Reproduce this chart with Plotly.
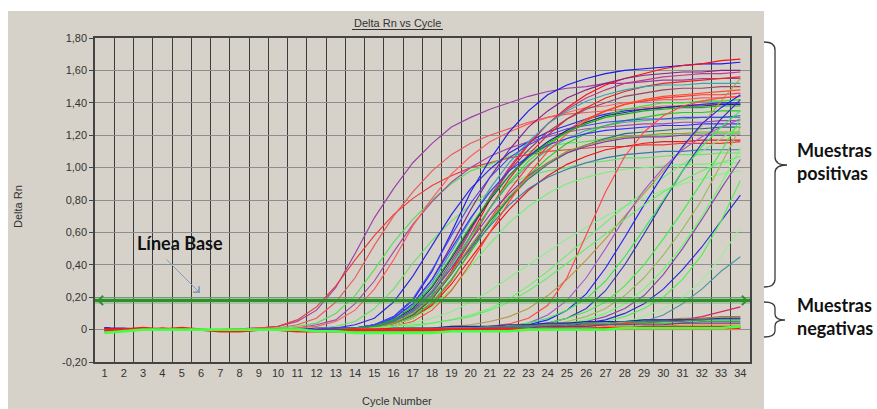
import plotly.graph_objects as go

# ---------------- data ----------------
cycles = list(range(1, 35))
x_tick_labels = [str(c) for c in cycles]
y_tick_vals = [-0.2, 0.0, 0.2, 0.4, 0.6, 0.8, 1.0, 1.2, 1.4, 1.6, 1.8]
y_tick_text = ["-0,20", "0", "0,20", "0,40", "0,60", "0,80", "1,00", "1,20", "1,40", "1,60", "1,80"]
THRESHOLD = 0.18

# early positives
E1 = [0.01,0.00,0.00,0.00,0.00,0.00,0.00,0.005,0.01,0.02, 0.05,0.12,0.26,0.47,0.69,0.87,1.03,1.15,1.25,1.31, 1.36,1.40,1.44,1.47,1.49,1.50,1.52,1.52,1.53,1.54, 1.54,1.55,1.55,1.55]
E2 = [-0.01,0.00,0.00,0.01,0.00,0.00,0.00,0.005,0.01,0.02, 0.06,0.14,0.27,0.43,0.58,0.71,0.81,0.89,0.95,1.00, 1.03,1.06,1.08,1.10,1.11,1.12,1.13,1.13,1.14,1.14, 1.15,1.15,1.15,1.16]
E3 = [0.00,0.00,0.00,0.00,0.00,0.00,0.00,0.00,0.01,0.01, 0.03,0.07,0.17,0.32,0.52,0.70,0.85,0.98,1.08,1.15, 1.20,1.24,1.28,1.31,1.33,1.34,1.35,1.36,1.37,1.38, 1.38,1.39,1.39,1.39]
E4 = [0.00,0.00,0.00,0.00,0.00,0.00,0.00,0.00,0.00,0.01, 0.02,0.04,0.10,0.21,0.37,0.54,0.68,0.80,0.90,0.98, 1.02,1.07,1.10,1.13,1.15,1.16,1.18,1.19,1.19,1.20, 1.20,1.21,1.21,1.21]
E5 = [0.01,0.00,0.00,0.00,0.00,0.00,0.00,0.00,0.00,0.00, 0.01,0.03,0.06,0.16,0.30,0.48,0.65,0.79,0.91,1.00, 1.07,1.12,1.16,1.19,1.22,1.24,1.25,1.26,1.27,1.27, 1.28,1.28,1.29,1.29]
E6 = [0.00,0.00,0.00,0.00,0.01,0.00,0.00,0.00,0.00,0.00, 0.01,0.02,0.05,0.12,0.25,0.43,0.64,0.81,0.96,1.07, 1.16,1.22,1.27,1.31,1.34,1.37,1.38,1.40,1.41,1.42, 1.42,1.43,1.43,1.44]
E7 = [-0.01,0.00,0.00,0.00,0.00,0.00,0.00,0.00,0.00,0.00, 0.00,0.01,0.02,0.05,0.13,0.25,0.41,0.55,0.67,0.77, 0.85,0.90,0.95,0.98,1.00,1.03,1.04,1.06,1.06,1.07, 1.08,1.08,1.09,1.09]
E8 = [0.01,0.00,0.00,0.00,0.00,0.00,0.00,0.00,0.00,0.00, 0.00,0.01,0.01,0.03,0.07,0.17,0.33,0.52,0.71,0.87, 0.99,1.09,1.16,1.22,1.26,1.30,1.33,1.35,1.36,1.37, 1.38,1.39,1.40,1.40]

# main bundle
M1 = [0.01,0.00,0.00,0.00,0.00,0.00,0.00,0.00,0.00,0.00, 0.00,0.00,0.01,0.01,0.03,0.08,0.18,0.36,0.60,0.85, 1.05,1.22,1.35,1.45,1.51,1.55,1.58,1.60,1.61,1.62, 1.63,1.64,1.64,1.65]
M2 = [0.00,0.00,0.00,0.01,0.00,0.00,-0.01,-0.01,0.00,0.00, 0.00,0.00,0.00,0.01,0.02,0.04,0.09,0.19,0.36,0.58, 0.80,0.99,1.14,1.27,1.37,1.45,1.51,1.55,1.58,1.61, 1.63,1.64,1.66,1.67]
M3 = [0.01,0.00,0.00,0.00,0.00,0.00,0.00,0.00,0.00,0.00, 0.00,0.00,0.01,0.01,0.03,0.07,0.16,0.31,0.52,0.74, 0.94,1.11,1.25,1.35,1.43,1.48,1.52,1.55,1.57,1.58, 1.59,1.59,1.60,1.60]
M4 = [0.00,0.00,0.00,0.00,0.00,0.00,0.00,0.00,0.00,0.00, 0.00,0.00,0.00,0.01,0.02,0.05,0.11,0.22,0.40,0.61, 0.82,1.00,1.15,1.27,1.36,1.43,1.48,1.52,1.54,1.56, 1.57,1.58,1.58,1.59]
M5 = [0.00,0.00,0.01,0.00,0.00,0.00,0.00,0.00,0.00,0.00, 0.00,0.00,0.00,0.01,0.02,0.04,0.09,0.19,0.35,0.55, 0.75,0.93,1.08,1.20,1.30,1.37,1.43,1.47,1.50,1.52, 1.53,1.54,1.55,1.56]
M6 = [0.00,0.00,0.00,0.00,0.00,0.00,0.00,0.00,0.00,0.00, 0.00,0.00,0.00,0.01,0.03,0.07,0.15,0.29,0.48,0.68, 0.87,1.03,1.16,1.27,1.35,1.41,1.45,1.48,1.50,1.51, 1.51,1.52,1.52,1.52]
M7 = [-0.01,0.00,0.00,0.00,0.00,0.00,0.00,0.00,0.00,0.00, 0.00,0.00,0.00,0.01,0.02,0.05,0.12,0.24,0.42,0.62, 0.81,0.98,1.11,1.22,1.30,1.36,1.40,1.44,1.46,1.48, 1.49,1.49,1.50,1.50]
M8 = [0.00,0.00,0.00,0.00,0.00,0.00,0.00,0.00,0.00,0.00, 0.00,0.00,0.00,0.00,0.01,0.03,0.07,0.16,0.30,0.49, 0.68,0.86,1.01,1.13,1.23,1.30,1.35,1.39,1.41,1.43, 1.44,1.45,1.45,1.46]
M9 = [-0.02,0.00,0.00,0.00,0.00,0.00,0.00,0.00,0.00,0.00, 0.00,0.00,0.00,0.01,0.02,0.05,0.11,0.22,0.38,0.57, 0.75,0.91,1.04,1.14,1.22,1.28,1.32,1.36,1.38,1.40, 1.40,1.41,1.41,1.42]
M10 = [0.01,0.00,0.00,0.00,0.00,0.00,0.00,0.00,0.00,0.00, 0.00,0.00,0.00,0.01,0.02,0.06,0.13,0.26,0.44,0.63, 0.80,0.95,1.07,1.16,1.23,1.28,1.32,1.34,1.36,1.37, 1.38,1.38,1.39,1.39]
M11 = [0.00,0.00,0.00,0.00,0.00,0.00,0.00,0.00,0.00,0.00, 0.00,0.00,0.00,0.00,0.01,0.03,0.08,0.17,0.31,0.48, 0.65,0.81,0.95,1.06,1.15,1.21,1.26,1.29,1.31,1.33, 1.34,1.34,1.35,1.35]
M12 = [0.00,0.00,0.00,0.00,0.00,0.00,0.00,0.00,0.00,0.00, 0.00,0.00,0.00,0.01,0.02,0.05,0.12,0.24,0.40,0.58, 0.75,0.90,1.02,1.11,1.18,1.23,1.26,1.28,1.29,1.30, 1.30,1.31,1.31,1.31]
M13 = [0.01,0.00,0.00,0.00,0.00,0.00,0.00,0.00,0.00,0.00, 0.00,0.00,0.00,0.01,0.03,0.07,0.16,0.31,0.50,0.69, 0.85,0.98,1.07,1.14,1.18,1.21,1.23,1.24,1.25,1.26, 1.26,1.27,1.27,1.27]
M14 = [0.00,0.00,0.00,0.00,0.00,0.00,0.00,0.00,0.00,0.00, 0.00,0.00,0.00,0.00,0.01,0.04,0.09,0.19,0.34,0.51, 0.67,0.81,0.93,1.02,1.09,1.14,1.18,1.21,1.22,1.23, 1.24,1.24,1.25,1.25]
M15 = [0.00,0.00,0.00,0.00,0.00,0.00,0.00,0.00,0.00,0.00, 0.00,0.00,0.00,0.01,0.02,0.05,0.12,0.23,0.38,0.55, 0.71,0.84,0.95,1.03,1.09,1.13,1.16,1.18,1.19,1.19, 1.20,1.20,1.20,1.20]
M16 = [0.00,0.00,0.00,0.00,0.00,0.00,0.00,0.00,0.00,0.00, 0.00,0.00,0.00,0.00,0.01,0.03,0.07,0.15,0.28,0.44, 0.60,0.74,0.86,0.95,1.02,1.07,1.11,1.13,1.15,1.16, 1.16,1.17,1.17,1.17]
M17 = [0.00,0.00,0.00,0.00,0.00,0.00,0.00,0.00,0.00,0.00, 0.00,0.00,0.00,0.01,0.02,0.05,0.11,0.21,0.35,0.50, 0.64,0.77,0.87,0.94,0.99,1.03,1.06,1.08,1.09,1.10, 1.10,1.11,1.11,1.11]
M18 = [0.00,0.00,0.00,0.00,0.00,0.00,0.00,0.00,0.00,0.00, 0.00,0.00,0.00,0.00,0.01,0.03,0.07,0.14,0.25,0.39, 0.53,0.66,0.76,0.84,0.90,0.94,0.97,0.99,1.00,1.01, 1.02,1.02,1.03,1.03]
M19 = [0.00,0.00,0.00,0.00,0.00,0.00,0.00,0.00,0.00,0.00, 0.00,0.00,0.01,0.01,0.03,0.08,0.19,0.37,0.58,0.78, 0.94,1.06,1.14,1.20,1.24,1.26,1.28,1.29,1.30,1.30, 1.31,1.31,1.31,1.32]
M20 = [0.00,0.00,0.00,0.00,0.00,0.00,0.00,0.00,0.00,0.00, 0.00,0.00,0.00,0.00,0.01,0.02,0.05,0.12,0.24,0.41, 0.60,0.79,0.96,1.10,1.21,1.29,1.35,1.39,1.42,1.44, 1.45,1.46,1.47,1.48]
M21 = [0.00,0.00,0.00,0.00,0.00,0.00,0.00,0.00,0.00,0.00, 0.00,0.00,0.00,0.01,0.02,0.06,0.14,0.27,0.45,0.64, 0.81,0.95,1.06,1.15,1.22,1.27,1.31,1.33,1.35,1.36, 1.37,1.37,1.38,1.38]
M22 = [0.00,0.00,0.00,0.00,0.00,0.00,0.00,0.00,0.00,0.00, 0.00,0.00,0.00,0.00,0.01,0.04,0.10,0.20,0.35,0.52, 0.68,0.82,0.94,1.03,1.10,1.14,1.17,1.19,1.20,1.21, 1.21,1.22,1.22,1.22]

# late positives
L1 = [0.00,0.00,0.00,0.00,0.00,0.00,0.00,0.00,0.00,0.00, 0.00,0.00,0.00,0.00,0.01,0.02,0.04,0.07,0.11,0.17, 0.24,0.32,0.40,0.48,0.56,0.63,0.70,0.76,0.81,0.86, 0.90,0.93,0.96,0.98]
L2 = [0.00,0.00,0.00,0.00,0.00,0.00,0.00,0.00,0.00,0.00, 0.00,0.00,0.00,0.00,0.00,0.01,0.02,0.04,0.06,0.09, 0.13,0.19,0.27,0.36,0.46,0.56,0.66,0.76,0.85,0.94, 1.02,1.10,1.18,1.26]
L3 = [0.00,0.00,0.00,0.00,0.00,0.00,0.00,0.00,0.00,0.00, 0.00,0.00,0.00,0.00,0.00,0.00,0.01,0.01,0.02,0.03, 0.05,0.08,0.13,0.21,0.31,0.43,0.56,0.70,0.84,0.98, 1.12,1.26,1.41,1.55]
L4 = [0.00,0.00,0.00,0.00,0.00,0.00,0.00,0.00,0.00,0.00, 0.00,0.00,0.00,0.00,0.00,0.00,0.00,0.00,0.01,0.01, 0.02,0.035,0.07,0.15,0.32,0.58,0.85,1.07,1.22,1.32, 1.38,1.41,1.43,1.44]
L5 = [0.00,0.00,0.00,0.00,0.00,0.00,0.00,0.00,0.00,0.00, 0.00,0.00,0.00,0.00,0.00,0.00,0.00,0.00,0.00,0.01, 0.01,0.02,0.04,0.09,0.18,0.32,0.50,0.69,0.86,1.00, 1.11,1.19,1.25,1.30]
L6 = [0.00,0.00,0.00,0.00,0.00,0.00,0.00,0.00,0.00,0.00, 0.00,0.00,0.00,0.00,0.00,0.00,0.00,0.00,0.00,0.00, 0.01,0.02,0.03,0.06,0.12,0.22,0.38,0.57,0.77,0.96, 1.13,1.27,1.37,1.45]
L7 = [0.00,0.00,0.00,0.00,0.00,0.00,0.00,0.00,0.00,0.00, 0.00,0.00,0.00,0.00,0.00,0.00,0.00,0.00,0.00,0.00, 0.00,0.01,0.02,0.04,0.07,0.13,0.24,0.40,0.59,0.79, 0.98,1.15,1.30,1.42]
L8 = [0.00,0.00,0.00,0.00,0.00,0.00,0.00,0.00,0.00,0.00, 0.00,0.00,0.00,0.00,0.00,0.00,0.00,0.00,0.00,0.00, 0.00,0.01,0.02,0.04,0.07,0.11,0.17,0.27,0.40,0.56, 0.73,0.91,1.10,1.30]
L9 = [0.00,0.00,0.00,0.00,0.00,0.00,0.00,0.00,0.00,0.00, 0.00,0.00,0.00,0.00,0.00,0.00,0.00,0.00,0.00,0.00, 0.00,0.01,0.02,0.03,0.05,0.08,0.13,0.21,0.32,0.46, 0.62,0.80,1.02,1.25]
L10 = [0.00,0.00,0.00,0.00,0.00,0.00,0.00,0.00,0.00,0.00, 0.00,0.00,0.00,0.00,0.00,0.00,0.00,0.00,0.00,0.00, 0.00,0.01,0.01,0.02,0.04,0.06,0.10,0.16,0.25,0.37, 0.52,0.70,0.90,1.12]
L11 = [0.00,0.00,0.00,0.00,0.00,0.00,0.00,0.00,0.00,0.00, 0.00,0.00,0.00,0.00,0.00,0.00,0.00,0.00,0.00,0.00, 0.00,0.00,0.01,0.02,0.03,0.05,0.08,0.13,0.21,0.34, 0.50,0.68,0.87,1.05]
L12 = [0.00,0.00,0.00,0.00,0.00,0.00,0.00,0.00,0.00,0.00, 0.00,0.00,0.00,0.00,0.00,0.00,0.00,0.00,0.00,0.00, 0.00,0.00,0.01,0.01,0.02,0.04,0.06,0.10,0.16,0.25, 0.37,0.51,0.67,0.83]
L13 = [0.00,0.00,0.00,0.00,0.00,0.00,0.00,0.00,0.00,0.00, 0.00,0.00,0.00,0.00,0.00,0.00,0.00,0.00,0.00,0.00, 0.00,0.00,0.01,0.01,0.02,0.03,0.05,0.08,0.13,0.20, 0.31,0.46,0.67,0.92]
L14 = [0.00,0.00,0.00,0.00,0.00,0.00,0.00,0.00,0.00,0.00, 0.00,0.00,0.00,0.00,0.00,0.00,0.00,0.00,0.00,0.00, 0.00,0.00,0.00,0.01,0.01,0.02,0.03,0.04,0.05,0.09, 0.16,0.25,0.36,0.45]
L15 = [0.00,0.00,0.00,0.00,0.00,0.00,0.00,0.00,0.00,0.00, 0.00,0.00,0.00,0.00,0.00,0.00,0.00,0.00,0.00,0.00, 0.00,0.00,0.00,0.01,0.01,0.02,0.03,0.05,0.08,0.13, 0.20,0.30,0.45,0.63]
L16 = [0.00,0.00,0.00,0.00,0.00,0.00,0.00,0.00,0.00,0.00, 0.00,0.00,0.00,0.00,0.00,0.00,0.00,0.00,0.00,0.01, 0.01,0.02,0.04,0.07,0.12,0.19,0.30,0.45,0.62,0.80, 0.98,1.13,1.25,1.35]
L17 = [0.00,0.00,0.00,0.00,0.00,0.00,0.00,0.00,0.00,0.00, 0.00,0.00,0.00,0.00,0.01,0.02,0.03,0.04,0.06,0.08, 0.12,0.17,0.24,0.32,0.41,0.50,0.59,0.68,0.77,0.85, 0.92,0.98,1.03,1.07]

# negatives
N1 = [0.00,0.00,0.00,0.00,0.00,0.00,0.00,0.00,0.00,0.00, 0.00,0.00,0.00,0.00,0.00,0.00,0.00,0.00,0.01,0.01, 0.01,0.01,0.02,0.02,0.02,0.03,0.03,0.04,0.04,0.05, 0.06,0.08,0.11,0.14]
N2 = [0.00,0.00,0.00,0.00,0.00,0.00,0.00,0.00,0.00,0.00, 0.00,0.00,0.00,0.00,0.00,0.00,0.00,0.01,0.01,0.01, 0.02,0.02,0.03,0.03,0.04,0.04,0.05,0.05,0.06,0.06, 0.07,0.07,0.08,0.08]
N3 = [0.00,0.00,0.00,0.00,0.00,0.00,0.00,0.00,0.00,0.00, 0.00,0.00,0.00,0.00,0.00,0.00,0.00,0.00,0.00,0.01, 0.01,0.01,0.02,0.02,0.02,0.03,0.03,0.04,0.05,0.06, 0.06,0.07,0.07,0.07]
N4 = [0.01,0.01,0.00,0.00,0.00,0.00,0.00,0.00,0.00,0.00, 0.00,0.00,0.00,0.00,0.00,0.01,0.01,0.01,0.02,0.02, 0.02,0.03,0.03,0.04,0.04,0.05,0.05,0.05,0.06,0.06, 0.06,0.06,0.07,0.07]
N5 = [0.00,0.00,0.00,0.00,0.00,0.00,0.00,0.00,0.00,0.00, 0.00,0.00,0.00,0.00,0.00,0.00,0.01,0.01,0.01,0.01, 0.02,0.02,0.02,0.03,0.03,0.04,0.04,0.05,0.05,0.05, 0.05,0.06,0.06,0.06]
N6 = [-0.01,0.00,0.00,0.00,0.00,0.00,0.00,0.00,0.00,0.00, 0.00,-0.01,-0.01,-0.01,-0.01,-0.01,-0.01,-0.01,0.00,0.00, 0.00,0.01,0.01,0.01,0.02,0.02,0.03,0.03,0.04,0.04, 0.04,0.05,0.05,0.05]
N7 = [0.00,0.00,0.00,0.00,0.00,0.00,0.00,0.00,0.00,0.00, 0.00,0.00,0.00,0.00,0.00,0.00,0.00,0.00,0.00,0.00, 0.00,0.00,0.01,0.01,0.01,0.01,0.02,0.02,0.02,0.02, 0.03,0.03,0.03,0.03]
N8 = [0.00,0.00,0.01,0.00,0.01,0.00,-0.01,-0.01,0.00,0.00, -0.01,-0.01,-0.01,0.00,0.00,0.00,0.00,0.00,0.00,0.00, 0.00,0.00,0.00,0.00,0.00,0.00,0.01,0.01,0.01,0.01, 0.01,0.01,0.01,0.01]
N9 = [-0.02,-0.01,0.00,0.00,0.00,0.00,0.00,0.00,0.00,0.00, 0.00,-0.01,-0.01,-0.02,-0.02,-0.02,-0.02,-0.02,-0.01,-0.01, -0.01,-0.01,0.00,0.00,0.00,0.00,0.00,0.01,0.01,0.01, 0.01,0.01,0.01,0.02]
N10 = [0.00,0.00,0.00,0.00,0.00,0.00,0.00,0.00,0.00,0.00, 0.00,0.00,0.00,0.00,0.00,0.00,0.00,0.00,0.00,0.00, 0.00,0.00,0.00,0.01,0.01,0.01,0.01,0.01,0.02,0.02, 0.02,0.02,0.02,0.02]
N11 = [0.00,0.00,0.00,0.00,0.00,0.00,0.00,0.00,0.00,0.00, 0.00,0.00,0.00,0.00,0.00,0.00,0.00,0.00,0.00,0.00, 0.00,0.00,0.00,0.00,0.00,0.00,0.00,0.00,0.00,0.00, 0.00,0.00,0.00,0.00]
N12 = [0.00,0.00,0.00,0.00,0.00,0.00,0.00,0.00,0.00,0.00, 0.00,0.00,0.00,0.00,0.00,0.00,0.00,0.00,0.00,0.00, 0.01,0.01,0.01,0.02,0.02,0.02,0.03,0.03,0.03,0.03, 0.04,0.04,0.04,0.04]

positive_series = {
    "E1": E1, "E2": E2, "E3": E3, "E4": E4, "E5": E5, "E6": E6, "E7": E7, "E8": E8,
    "M1": M1, "M2": M2, "M3": M3, "M4": M4, "M5": M5, "M6": M6, "M7": M7, "M8": M8,
    "M9": M9, "M10": M10, "M11": M11, "M12": M12, "M13": M13, "M14": M14, "M15": M15,
    "M16": M16, "M17": M17, "M18": M18, "M19": M19, "M20": M20, "M21": M21, "M22": M22,
    "L1": L1, "L2": L2, "L3": L3, "L4": L4, "L5": L5, "L6": L6, "L7": L7, "L8": L8,
    "L9": L9, "L10": L10, "L11": L11, "L12": L12, "L13": L13, "L14": L14, "L15": L15,
    "L16": L16, "L17": L17,
}
negative_series = {
    "N1": N1, "N2": N2, "N3": N3, "N4": N4, "N5": N5, "N6": N6, "N7": N7,
    "N10": N10, "N11": N11, "N12": N12, "N8": N8, "N9": N9,
}

# ---------------- styles ----------------
colors = {
    "E1": "#9b3fa5", "E2": "#ee3a3a", "E3": "#e85a5a", "E4": "#5bdc5b", "E5": "#a24aa8",
    "E6": "#ff5c5c", "E7": "#6ee06e", "E8": "#2828dc",
    "M1": "#1a1aee", "M2": "#ff1010", "M3": "#882288", "M4": "#c03a8a", "M5": "#ee2222",
    "M6": "#3aa8a8", "M7": "#9a4466", "M8": "#ff3838", "M9": "#33dd33", "M10": "#24248a",
    "M11": "#22cc22", "M12": "#44aa88", "M13": "#3434ff", "M14": "#2a6a7a", "M15": "#8a38ac",
    "M16": "#e81818", "M17": "#3a78aa", "M18": "#7aee7a", "M19": "#4848ee", "M20": "#ff4a2a",
    "M21": "#18b018", "M22": "#999933",
    "L1": "#8cee8c", "L2": "#74ec74", "L3": "#b89a48", "L4": "#ff4848", "L5": "#aa58c8",
    "L6": "#2222ff", "L7": "#3434bb", "L8": "#44ee44", "L9": "#9cbc5c", "L10": "#66ff66",
    "L11": "#8a48aa", "L12": "#2a2ad0", "L13": "#55ee55", "L14": "#4a9a9a", "L15": "#9cee9c",
    "L16": "#38e858", "L17": "#66ee66",
    "N1": "#dd2266", "N2": "#888833", "N3": "#aa6633", "N4": "#2222aa", "N5": "#338888",
    "N6": "#22bb22", "N7": "#ee9944", "N8": "#ff1a1a", "N9": "#44ff44", "N10": "#aa2222",
    "N11": "#ccaa77", "N12": "#773388",
}
thick = {"N8": 2.6, "N9": 2.6}

FONT = "Liberation Sans, Arial, sans-serif"
NOTE_FONT = "Lato, Open Sans, sans-serif"

# plot area in pixels (layout only)
W, H = 877, 409
L, R, T, B = 95, 750, 38, 362


def px(x):
    return (x - L) / (R - L)


def py(y):
    return (B - y) / (B - T)


fig = go.Figure()
for name, vals in list(positive_series.items()) + list(negative_series.items()):
    assert len(vals) == len(cycles), name
    fig.add_trace(go.Scatter(
        x=cycles, y=vals, mode="lines", name=name,
        line=dict(color=colors[name], width=thick.get(name, 1.15)),
        hoverinfo="skip", showlegend=False,
    ))

shapes = [
    # grey software panel
    dict(type="rect", xref="paper", yref="paper", x0=px(8), x1=px(764), y0=py(410), y1=py(11),
         fillcolor="#d6d2ca", line=dict(width=0), layer="below"),
    # title underline
    dict(type="line", xref="paper", yref="paper", x0=px(352), x1=px(443), y0=py(29.5), y1=py(29.5),
         line=dict(color="#333333", width=1)),
    # threshold (baseline) line with halo
    dict(type="line", xref="paper", yref="y", x0=0, x1=1, y0=THRESHOLD, y1=THRESHOLD,
         line=dict(color="rgba(80,170,80,0.35)", width=7), layer="above"),
    dict(type="line", xref="paper", yref="y", x0=0, x1=1, y0=THRESHOLD, y1=THRESHOLD,
         line=dict(color="#2f8f2f", width=3), layer="above"),
]

# braces
def brace(x_end, x_mid, x_tip, y_top, y_mid, y_bot, r):
    return (f"M {px(x_end)},{py(y_top)} Q {px(x_mid)},{py(y_top)} {px(x_mid)},{py(y_top + r)} "
            f"L {px(x_mid)},{py(y_mid - r)} Q {px(x_mid)},{py(y_mid)} {px(x_tip)},{py(y_mid)} "
            f"Q {px(x_mid)},{py(y_mid)} {px(x_mid)},{py(y_mid + r)} "
            f"L {px(x_mid)},{py(y_bot - r)} Q {px(x_mid)},{py(y_bot)} {px(x_end)},{py(y_bot)}")

shapes.append(dict(type="path", xref="paper", yref="paper", path=brace(764, 775, 787, 42, 165, 287, 8),
                   line=dict(color="#3a3a3a", width=1.3)))
shapes.append(dict(type="path", xref="paper", yref="paper", path=brace(764, 775, 785, 302, 320, 337, 6),
                   line=dict(color="#3a3a3a", width=1.3)))


def note(text, x, y, size=18, xanchor="center", family=NOTE_FONT, color="#111111", angle=0):
    return dict(text=text, xref="paper", yref="paper", x=px(x), y=py(y), xanchor=xanchor,
                yanchor="middle", showarrow=False, textangle=angle,
                font=dict(family=family, size=size, color=color))


annotations = [
    note("Delta Rn vs Cycle", 397.5, 23, size=11, family=FONT, color="#333333"),
    note("Cycle Number", 397, 401, size=11, family=FONT, color="#333333"),
    note("Delta Rn", 18, 207, size=11, family=FONT, color="#333333", angle=-90),
    note("<b>Línea Base</b>", 180, 243),
    dict(text="", xref="paper", yref="paper", x=px(200), y=py(293), ax=-35, ay=-35,
         showarrow=True, arrowhead=4, arrowsize=1.6, arrowwidth=1, arrowcolor="#7f9cbc"),
    note("<b>Muestras</b>", 795, 150, xanchor="left"),
    note("<b>positivas</b>", 795, 173, xanchor="left"),
    note("<b>Muestras</b>", 795, 305, xanchor="left"),
    note("<b>negativas</b>", 795, 328, xanchor="left"),
    # threshold arrow heads
    dict(text="", xref="paper", yref="y", x=0.003, y=THRESHOLD, ax=6, ay=0, showarrow=True,
         arrowhead=4, arrowsize=0.9, arrowwidth=2, arrowcolor="#2f8f2f"),
    dict(text="", xref="paper", yref="y", x=0.997, y=THRESHOLD, ax=-6, ay=0, showarrow=True,
         arrowhead=4, arrowsize=0.9, arrowwidth=2, arrowcolor="#2f8f2f"),
]

fig.update_layout(
    width=W, height=H,
    margin=dict(l=L, r=W - R, t=T, b=H - B, pad=0),
    paper_bgcolor="white", plot_bgcolor="white",
    showlegend=False,
    shapes=shapes, annotations=annotations,
    font=dict(family=FONT, size=11, color="#333333"),
)
fig.update_xaxes(
    range=[0.5, 34.5], tickmode="array", tickvals=cycles, ticktext=x_tick_labels,
    showgrid=False, zeroline=False, ticks="", ticklen=0,
    showline=True, linecolor="#444444", linewidth=1.5, mirror=True,
    tickfont=dict(family=FONT, size=11, color="#333333"),
    minor=dict(tick0=0.5, dtick=1, showgrid=True, gridcolor="#3c3c3c", gridwidth=1.4, ticks=""),
)
fig.update_yaxes(
    range=[-0.2, 1.8], tickmode="array", tickvals=y_tick_vals, ticktext=y_tick_text,
    showgrid=True, gridcolor="#8e8e8e", gridwidth=1.4, zeroline=False,
    ticks="outside", ticklen=4, tickcolor="#444444",
    showline=True, linecolor="#444444", linewidth=1.5, mirror=True,
    tickfont=dict(family=FONT, size=11, color="#333333"),
)

fig.write_html("out.html")
